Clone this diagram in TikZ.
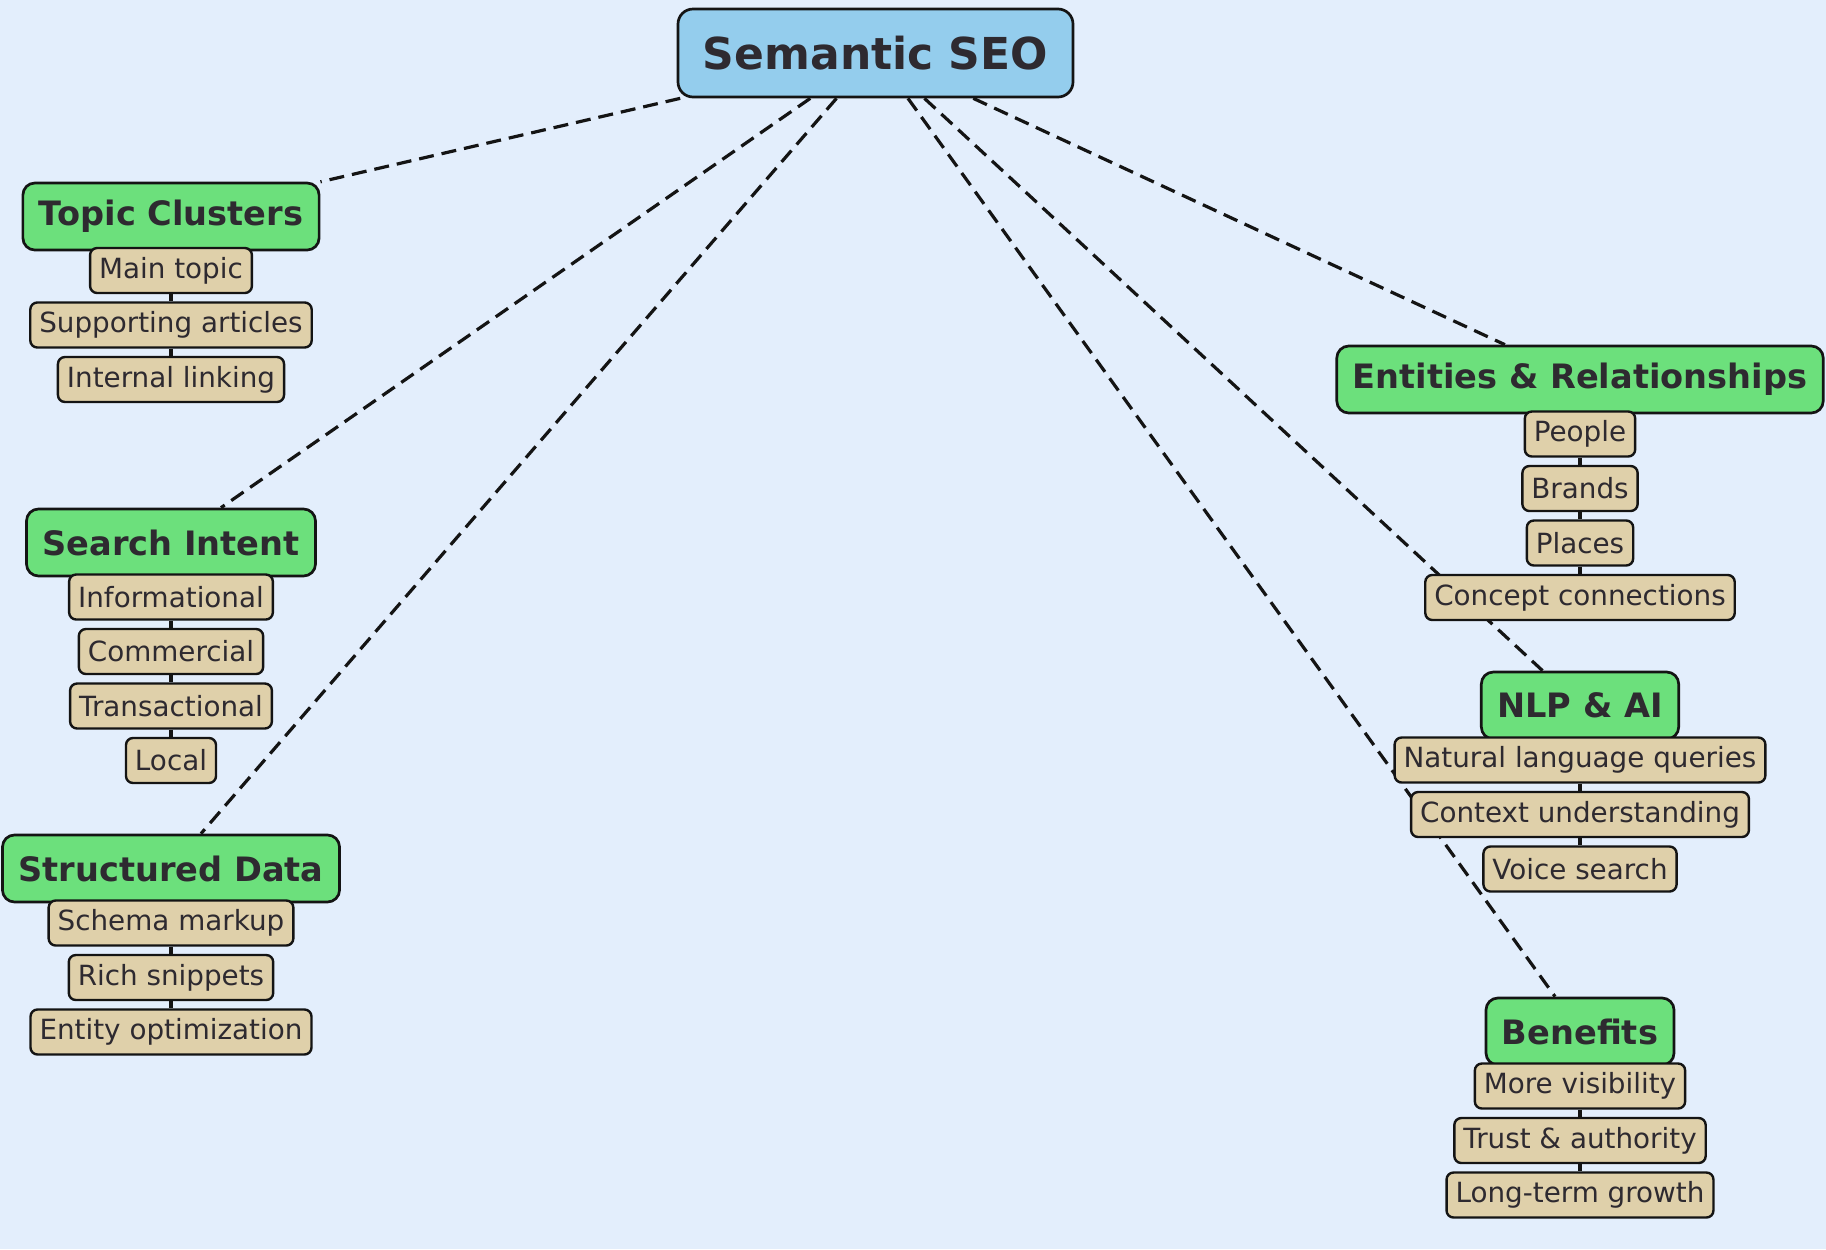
\documentclass[tikz,border=0pt]{standalone}
\usepackage{fontspec}
\setmainfont{DejaVu Sans}
\pgfdeclarelayer{background}
\pgfsetlayers{background,main}
\definecolor{bgblue}{RGB}{227,238,252}
\definecolor{rootblue}{RGB}{148,205,237}
\definecolor{topicgreen}{RGB}{108,224,124}
\definecolor{leaftan}{RGB}{223,208,170}
\definecolor{inkdark}{RGB}{46,42,48}
\definecolor{edgeblack}{RGB}{20,20,20}
\tikzset{
  rootbox/.style={draw=edgeblack,line width=1.35pt,fill=rootblue,rounded corners=7.5pt,
    text=inkdark,font=\bfseries\fontsize{22}{26}\selectfont,
    minimum width=197.5pt,minimum height=44pt,inner xsep=10pt},
  topicbox/.style={draw=edgeblack,line width=1.35pt,fill=topicgreen,rounded corners=6pt,
    text=inkdark,font=\bfseries\fontsize{16.8}{19}\selectfont,
    minimum height=33.5pt,inner xsep=8pt},
  leafbox/.style={draw=edgeblack,line width=1.2pt,fill=leaftan,rounded corners=3.5pt,
    text=inkdark,font=\fontsize{13.9}{17}\selectfont,
    minimum height=22.5pt,inner xsep=4.5pt},
  branch/.style={draw=edgeblack,line width=1.6pt,dash pattern=on 7.5pt off 4pt},
  stem/.style={draw=edgeblack,line width=1.8pt}
}
\begin{document}
\begin{tikzpicture}[x=0.5pt,y=-0.5pt]
\begin{pgfonlayer}{background}
\fill[bgblue] (0,0) rectangle (1826,1249);
\end{pgfonlayer}
\useasboundingbox (0,0) rectangle (1826,1249);
% centre
\node[rootbox] (root) at (875.5,53) {Semantic SEO};
% left column
\node[topicbox] (tc) at (171,216.5) {Topic Clusters};
\node[leafbox] (tc1) at (171,270.5) {Main topic};
\node[leafbox] (tc2) at (171,325) {Supporting articles};
\node[leafbox] (tc3) at (171,379.5) {Internal linking};
\node[topicbox] (si) at (171,542.5) {Search Intent};
\node[leafbox] (si1) at (171,597) {Informational};
\node[leafbox] (si2) at (171,651.5) {Commercial};
\node[leafbox] (si3) at (171,706) {Transactional};
\node[leafbox] (si4) at (171,760.5) {Local};
\node[topicbox] (sd) at (171,868.5) {Structured Data};
\node[leafbox] (sd1) at (171,923) {Schema markup};
\node[leafbox] (sd2) at (171,977.5) {Rich snippets};
\node[leafbox] (sd3) at (171,1032) {Entity optimization};
% right column
\node[topicbox] (er) at (1580,379.5) {Entities \& Relationships};
\node[leafbox] (er1) at (1580,434) {People};
\node[leafbox] (er2) at (1580,488.5) {Brands};
\node[leafbox] (er3) at (1580,543) {Places};
\node[leafbox] (er4) at (1580,597.5) {Concept connections};
\node[topicbox] (nlp) at (1580,705.5) {NLP \& AI};
\node[leafbox] (nlp1) at (1580,760) {Natural language queries};
\node[leafbox] (nlp2) at (1580,814.5) {Context understanding};
\node[leafbox] (nlp3) at (1580,869) {Voice search};
\node[topicbox] (ben) at (1580,1031.5) {Benefits};
\node[leafbox] (ben1) at (1580,1086) {More visibility};
\node[leafbox] (ben2) at (1580,1140.5) {Trust \& authority};
\node[leafbox] (ben3) at (1580,1195) {Long-term growth};
% connectors, behind the boxes
\begin{pgfonlayer}{background}
\draw[branch] (root) -- (tc);
\draw[branch] (root) -- (si);
\draw[branch] (root) -- (sd);
\draw[branch] (root) -- (er);
\draw[branch] (root) -- (nlp);
\draw[branch] (root) -- (ben);
\draw[stem] (tc) -- (tc1) -- (tc2) -- (tc3);
\draw[stem] (si) -- (si1) -- (si2) -- (si3) -- (si4);
\draw[stem] (sd) -- (sd1) -- (sd2) -- (sd3);
\draw[stem] (er) -- (er1) -- (er2) -- (er3) -- (er4);
\draw[stem] (nlp) -- (nlp1) -- (nlp2) -- (nlp3);
\draw[stem] (ben) -- (ben1) -- (ben2) -- (ben3);
\end{pgfonlayer}
\end{tikzpicture}
\end{document}
